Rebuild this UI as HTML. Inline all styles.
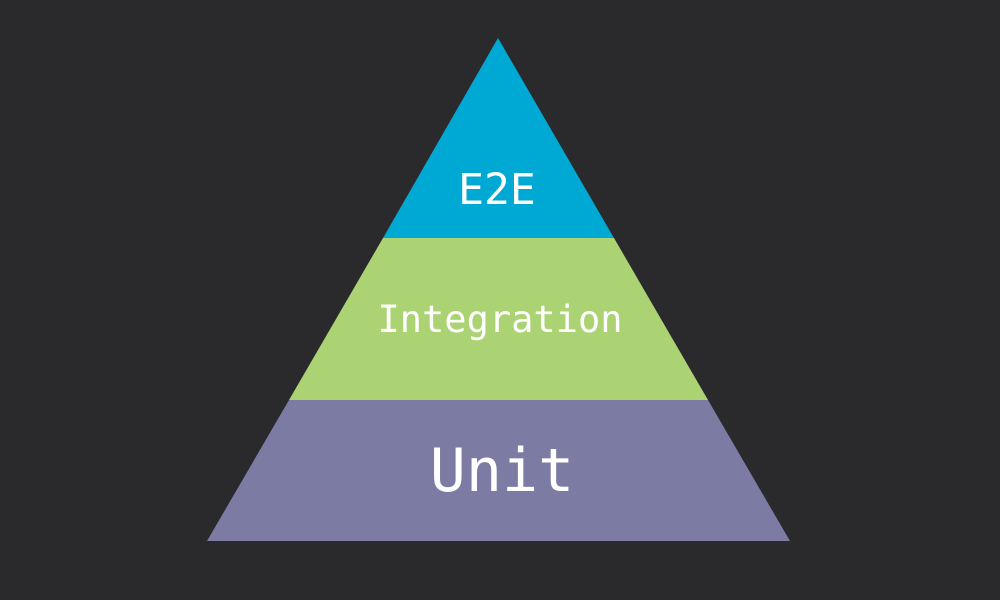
<!DOCTYPE html>
<html><head><style>html,body{margin:0;padding:0;background:#2a2a2c;width:1000px;height:600px;overflow:hidden}</style></head>
<body>
<svg width="1000" height="600" viewBox="0 0 1000 600" xmlns="http://www.w3.org/2000/svg">
<rect width="1000" height="600" fill="#2a2a2c"/>
<polygon points="498,38 614,238 383,238" fill="#00a9d3"/>
<polygon points="383,238 614,238 708,400 289,400" fill="#acd373"/>
<polygon points="289,400 708,400 790,541 207,541" fill="#7c7ba3"/>
<g font-family="DejaVu Sans Mono, Liberation Mono, monospace" fill="#ffffff" text-anchor="middle">
<text x="497" y="204" font-size="43">E2E</text>
<text x="500" y="332" font-size="37">Integration</text>
<text x="502" y="491" font-size="60">Unit</text>
</g>
</svg>
</body></html>
